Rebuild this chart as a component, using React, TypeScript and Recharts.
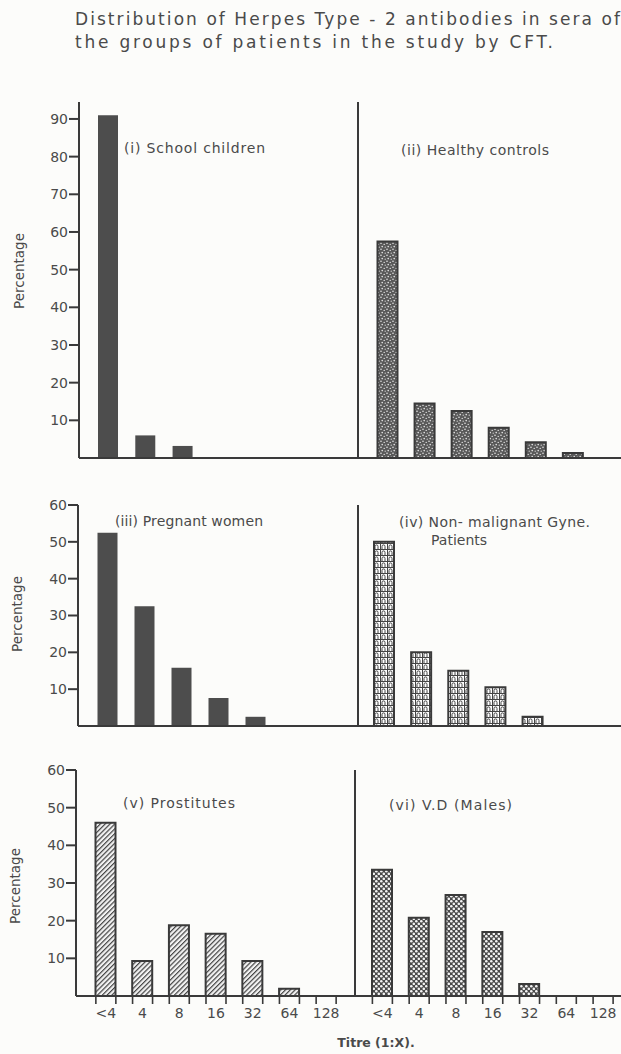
import React from 'react';
import { BarChart, Bar, XAxis, YAxis } from 'recharts';

const INK = '#3a3a3a';
const TEXT = '#4a4a4a';
const FONT = '"DejaVu Sans", Verdana, sans-serif';

// Titre (1:X) categories, same for every panel
const titres = ['<4', '4', '8', '16', '32', '64', '128'];

// Percentage of sera at each titre
const schoolChildren = [91, 6, 3.2, 0, 0, 0, 0];
const healthyControls = [57.5, 14.5, 12.5, 8, 4.2, 1.3, 0];
const pregnantWomen = [52.5, 32.5, 15.8, 7.6, 2.5, 0, 0];
const gynePatients = [50, 20, 15, 10.5, 2.5, 0, 0];
const prostitutes = [46, 9.3, 18.8, 16.5, 9.3, 1.9, 0];
const vdMales = [33.5, 20.8, 26.8, 17, 3.2, 0, 0];

const ticksTo90 = [10, 20, 30, 40, 50, 60, 70, 80, 90];
const ticksTo60 = [10, 20, 30, 40, 50, 60];

const toRows = (values: number[]) => titres.map((titre, i) => ({ titre, value: values[i] }));

// two little marks at the bar edges plus the titre label
const TitreTick = (props: any) => {
  const { x, y, payload } = props;
  return (
    <g>
      <line x1={x - 10} y1={y} x2={x - 10} y2={y + 8} stroke={INK} strokeWidth={1.6} />
      <line x1={x + 10} y1={y} x2={x + 10} y2={y + 8} stroke={INK} strokeWidth={1.6} />
      <text x={x} y={y + 22} textAnchor="middle" fontSize={14} fill={TEXT} fontFamily={FONT}>
        {payload.value}
      </text>
    </g>
  );
};

function Half({ values, fill, x, plotTop, plotBottom, axisX, endX, pad, yMax, ticks, showTitres, outlined }: any) {
  const xh = showTitres ? 36 : 2;
  const top = plotTop - 10;
  const height = plotBottom - plotTop + 10 + xh;
  return (
    <div style={{ position: 'absolute', left: x, top }}>
      <BarChart
        width={endX - x}
        height={height}
        data={toRows(values)}
        margin={{ top: 10, right: 0, bottom: 0, left: 0 }}
      >
        <XAxis
          dataKey="titre"
          interval={0}
          height={xh}
          padding={{ left: pad[0], right: pad[1] }}
          axisLine={{ stroke: INK, strokeWidth: 2 }}
          tickLine={false}
          tickSize={0}
          tickMargin={0}
          tick={showTitres ? <TitreTick /> : false}
        />
        <YAxis
          type="number"
          domain={[0, yMax]}
          width={axisX - x}
          ticks={ticks ?? []}
          axisLine={{ stroke: INK, strokeWidth: 2 }}
          tick={ticks ? { fontSize: 14, fill: TEXT, fontFamily: FONT } : false}
          tickLine={ticks ? { stroke: INK, strokeWidth: 2 } : false}
          tickSize={10}
          tickMargin={1}
        />
        <Bar
          dataKey="value"
          fill={fill}
          barSize={20}
          stroke={outlined ? INK : 'none'}
          strokeWidth={outlined ? 2 : 0}
          isAnimationActive={false}
        />
      </BarChart>
    </div>
  );
}

const Patterns = () => (
  <svg width={0} height={0} style={{ position: 'absolute' }}>
    <defs>
      <pattern id="stipple" width={6} height={6} patternUnits="userSpaceOnUse">
        <rect width={6} height={6} fill="#595959" />
        <circle cx={1} cy={1.2} r={0.8} fill="#e6e6e6" />
        <circle cx={4.2} cy={2.4} r={0.7} fill="#e6e6e6" />
        <circle cx={2.2} cy={4.6} r={0.8} fill="#e6e6e6" />
        <circle cx={5.2} cy={5.2} r={0.6} fill="#e6e6e6" />
      </pattern>
      <pattern id="brick" width={7} height={6} patternUnits="userSpaceOnUse">
        <rect width={7} height={6} fill="#ffffff" />
        <path d="M0 0.5H7 M0.5 0V6 M2 6V3.4a1.5 1.5 0 0 1 3 0V6" stroke="#444" strokeWidth={1} fill="none" />
      </pattern>
      <pattern id="hatch" width={3.4} height={3.4} patternUnits="userSpaceOnUse" patternTransform="rotate(45)">
        <rect width={3.4} height={3.4} fill="#f2f2f2" />
        <line x1={0.6} y1={0} x2={0.6} y2={3.4} stroke="#444" strokeWidth={1.2} />
      </pattern>
      <pattern id="cobble" width={5} height={5} patternUnits="userSpaceOnUse">
        <rect width={5} height={5} fill="#4a4a4a" />
        <circle cx={1.3} cy={1.3} r={1.3} fill="#f4f4f4" />
        <circle cx={3.8} cy={3.8} r={1.3} fill="#f4f4f4" />
      </pattern>
    </defs>
  </svg>
);

const txt = { fontFamily: FONT, fill: TEXT } as const;

export default function App() {
  return (
    <div style={{ position: 'absolute', left: 0, top: 0, width: 621, height: 1054, overflow: 'hidden', background: '#fcfcfa' }}>
      <Patterns />

      {/* (i) / (ii) */}
      <Half values={schoolChildren} fill="#4d4d4d" x={0} axisX={79} endX={358} pad={[10, 8]}
        plotTop={102} plotBottom={458} yMax={94.5} ticks={ticksTo90} />
      <Half values={healthyControls} fill="url(#stipple)" outlined x={338} axisX={358} endX={628} pad={[10.5, 0]}
        plotTop={102} plotBottom={458} yMax={94.5} />

      {/* (iii) / (iv) */}
      <Half values={pregnantWomen} fill="#4d4d4d" x={0} axisX={78} endX={358} pad={[10.5, 10.5]}
        plotTop={505} plotBottom={726} yMax={60} ticks={ticksTo60} />
      <Half values={gynePatients} fill="url(#brick)" outlined x={338} axisX={358} endX={625} pad={[7, 0]}
        plotTop={505} plotBottom={726} yMax={60} />

      {/* (v) / (vi) */}
      <Half values={prostitutes} fill="url(#hatch)" outlined x={0} axisX={76} endX={355} pad={[11.5, 10.5]}
        plotTop={770} plotBottom={996} yMax={60} ticks={ticksTo60} showTitres />
      <Half values={vdMales} fill="url(#cobble)" outlined x={335} axisX={355} endX={621.5} pad={[9, 0]}
        plotTop={770} plotBottom={996} yMax={60} showTitres />

      <svg width={621} height={1054} style={{ position: 'absolute', left: 0, top: 0, pointerEvents: 'none' }}>
        <text x={75} y={25} fontSize={17} textLength={545} lengthAdjust="spacing" {...txt}>
          Distribution of Herpes Type - 2 antibodies in sera of
        </text>
        <text x={75} y={48} fontSize={17} textLength={478} lengthAdjust="spacing" {...txt}>
          the groups of patients in the study by CFT.
        </text>

        <text x={124} y={153} fontSize={14} textLength={141} lengthAdjust="spacing" {...txt}>(i) School children</text>
        <text x={401} y={155} fontSize={14} textLength={148} lengthAdjust="spacing" {...txt}>(ii) Healthy controls</text>
        <text x={115} y={526} fontSize={14} textLength={148} lengthAdjust="spacing" {...txt}>(iii) Pregnant women</text>
        <text x={399} y={527} fontSize={14} textLength={191} lengthAdjust="spacing" {...txt}>(iv) Non- malignant Gyne.</text>
        <text x={431} y={545} fontSize={14} {...txt}>Patients</text>
        <text x={123} y={808} fontSize={14} textLength={112} lengthAdjust="spacing" {...txt}>(v) Prostitutes</text>
        <text x={389} y={810} fontSize={14} textLength={123} lengthAdjust="spacing" {...txt}>(vi) V.D (Males)</text>

        <text transform="translate(24 271) rotate(-90)" textAnchor="middle" fontSize={13.5} {...txt}>Percentage</text>
        <text transform="translate(22 614) rotate(-90)" textAnchor="middle" fontSize={13.5} {...txt}>Percentage</text>
        <text transform="translate(20 886) rotate(-90)" textAnchor="middle" fontSize={13.5} {...txt}>Percentage</text>

        <text x={376} y={1047} textAnchor="middle" fontSize={12.5} fontWeight="bold" {...txt}>Titre (1:X).</text>
      </svg>
    </div>
  );
}
